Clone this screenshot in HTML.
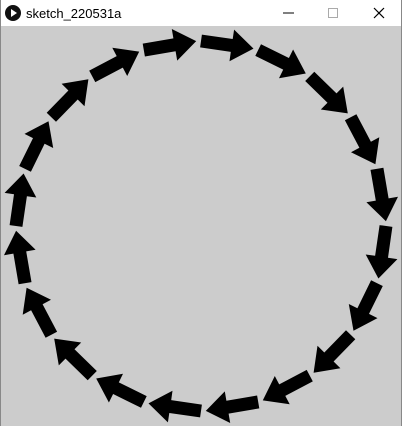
<!DOCTYPE html>
<html><head><meta charset="utf-8"><style>
html,body{margin:0;padding:0;width:402px;height:427px;overflow:hidden;background:#fff;font-family:"Liberation Sans",sans-serif}
#win{position:absolute;left:0;top:0;width:400px;height:425px;border:1px solid #888;border-top:none;background:#fff}
#title{position:absolute;left:0;top:0;width:400px;height:26px;background:#fff}
#canvas{position:absolute;left:0;top:26px;width:400px;height:400px;background:#cccccc}
</style></head><body>
<div id="win">
<div id="title">
 <svg width="400" height="26" style="position:absolute;left:0;top:0">
  <circle cx="12" cy="13" r="8" fill="#111"/>
  <polygon points="10,9 10,17 16,13" fill="#fff"/>
  <text x="25" y="18" font-size="13" fill="#000" font-family="Liberation Sans, sans-serif">sketch_220531a</text>
  <line x1="282" y1="13" x2="293" y2="13" stroke="#000" stroke-width="1"/>
  <rect x="327.5" y="8.5" width="9" height="9" fill="none" stroke="#aaa"/>
  <g stroke="#000" stroke-width="1.2"><line x1="373" y1="8" x2="383" y2="18"/><line x1="383" y1="8" x2="373" y2="18"/></g>
 </svg>
</div>
<div id="canvas">
 <svg id="sv" width="400" height="400"></svg>
</div>
</div>
<script>
const arrowCount = 20;
const arrowStartDeg = [-90,-72,-54,-36,-18,0,18,36,54,72,90,108,126,144,162,180,198,216,234,252];
const arrowSpanDeg = [16.5,16.5,16.5,16.5,16.5,16.5,16.5,16.5,16.5,16.5,16.5,16.5,16.5,16.5,16.5,16.5,16.5,16.5,16.5,16.5];
const cx=200, cy=200, R=185;
const sv=document.getElementById('sv');
const NS='http://www.w3.org/2000/svg';
function pt(d){const a=d*Math.PI/180;return [cx+R*Math.cos(a), cy+R*Math.sin(a)];}
for(let i=0;i<arrowCount;i++){
 const s=pt(arrowStartDeg[i]), e=pt(arrowStartDeg[i]+arrowSpanDeg[i]);
 let dx=e[0]-s[0], dy=e[1]-s[1]; const L=Math.hypot(dx,dy); dx/=L; dy/=L;
 const nx=-dy, ny=dx, hl=22, hw=16, sw=6.5;
 const b=[e[0]-dx*hl, e[1]-dy*hl];
 const p=[[s[0]+nx*sw,s[1]+ny*sw],[b[0]+nx*sw,b[1]+ny*sw],[b[0]+nx*hw,b[1]+ny*hw],e,[b[0]-nx*hw,b[1]-ny*hw],[b[0]-nx*sw,b[1]-ny*sw],[s[0]-nx*sw,s[1]-ny*sw]];
 const poly=document.createElementNS(NS,'polygon');
 poly.setAttribute('points',p.map(q=>q[0].toFixed(1)+','+q[1].toFixed(1)).join(' '));
 poly.setAttribute('fill','#000');
 
 
 sv.appendChild(poly);
}
</script>
</body></html>
